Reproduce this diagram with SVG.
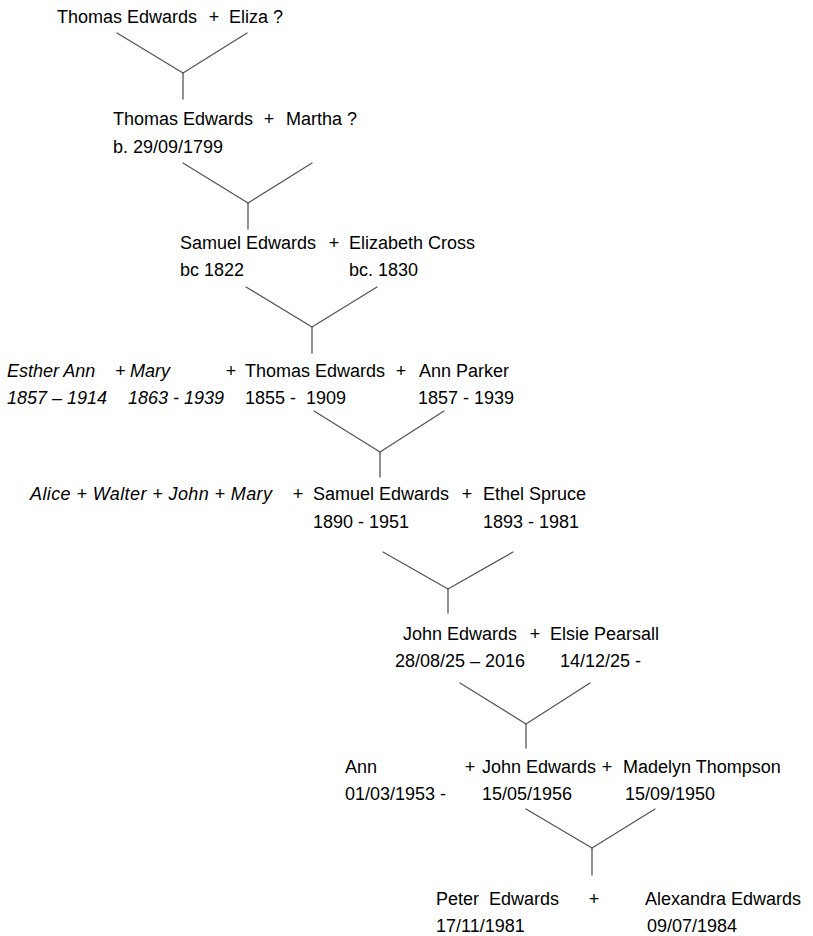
<svg xmlns="http://www.w3.org/2000/svg" width="813" height="936" viewBox="0 0 813 936">
<style>
text{font-family:"Liberation Sans",Arial,sans-serif;font-size:18px;fill:#000}
.i{font-style:italic}
.p{text-anchor:middle}
.c line{stroke:#555;stroke-width:1.3;stroke-linecap:round}
</style>
<rect width="813" height="936" fill="#fff"/>
<g class="c" id="connectors">
<line x1="117" y1="33" x2="183" y2="73"/><line x1="247" y1="33" x2="183" y2="73"/><line x1="183" y1="73" x2="183" y2="99"/>
<line x1="183" y1="163" x2="248" y2="203"/><line x1="312" y1="163" x2="248" y2="203"/><line x1="248" y1="203" x2="248" y2="229"/>
<line x1="246" y1="287" x2="312" y2="327"/><line x1="377" y1="287" x2="312" y2="327"/><line x1="312" y1="327" x2="312" y2="353"/>
<line x1="314" y1="411" x2="380" y2="452"/><line x1="444" y1="411" x2="380" y2="452"/><line x1="380" y1="452" x2="380" y2="477"/>
<line x1="383" y1="552" x2="448" y2="589"/><line x1="513" y1="552" x2="448" y2="589"/><line x1="448" y1="589" x2="448" y2="613"/>
<line x1="460" y1="683" x2="526" y2="724"/><line x1="590" y1="683" x2="526" y2="724"/><line x1="526" y1="724" x2="526" y2="748"/>
<line x1="526" y1="809" x2="592" y2="848"/><line x1="655" y1="809" x2="592" y2="848"/><line x1="592" y1="848" x2="592" y2="875"/>
</g>
<g id="gen1">
<g id="thomas-edwards-1"><text x="57" y="23">Thomas Edwards</text></g>
<text class="p" x="214" y="23">+</text>
<g id="eliza"><text x="229" y="23">Eliza ?</text></g>
</g>
<g id="gen2">
<g id="thomas-edwards-2"><text x="113" y="125">Thomas Edwards</text><text x="113" y="153">b. 29/09/1799</text></g>
<text class="p" x="269" y="125">+</text>
<g id="martha"><text x="286" y="125">Martha ?</text></g>
</g>
<g id="gen3">
<g id="samuel-edwards-1"><text x="180" y="249">Samuel Edwards</text><text x="180" y="276">bc 1822</text></g>
<text class="p" x="334" y="249">+</text>
<g id="elizabeth-cross"><text x="349" y="249">Elizabeth Cross</text><text x="349" y="276">bc. 1830</text></g>
</g>
<g id="gen4">
<g id="esther-ann"><text class="i" x="7" y="377">Esther Ann</text><text class="i" x="7" y="404">1857 – 1914</text></g>
<text class="i" x="115" y="377">+</text>
<g id="mary-1"><text class="i" x="130" y="377">Mary</text><text class="i" x="128" y="404">1863 - 1939</text></g>
<text class="p" x="231" y="377">+</text>
<g id="thomas-edwards-3"><text x="245" y="377">Thomas Edwards</text><text x="245" y="404" xml:space="preserve">1855 -  1909</text></g>
<text class="p" x="401" y="377">+</text>
<g id="ann-parker"><text x="419" y="377">Ann Parker</text><text x="418" y="404">1857 - 1939</text></g>
</g>
<g id="gen5">
<g id="siblings"><text class="i" x="30" y="500" textLength="242">Alice + Walter + John + Mary</text></g>
<text class="p" x="298" y="500">+</text>
<g id="samuel-edwards-2"><text x="313" y="500">Samuel Edwards</text><text x="313" y="528">1890 - 1951</text></g>
<text class="p" x="467" y="500">+</text>
<g id="ethel-spruce"><text x="483" y="500">Ethel Spruce</text><text x="483" y="528">1893 - 1981</text></g>
</g>
<g id="gen6">
<g id="john-edwards-1"><text x="403" y="640">John Edwards</text><text x="395" y="667">28/08/25 – 2016</text></g>
<text class="p" x="535" y="640">+</text>
<g id="elsie-pearsall"><text x="550" y="640">Elsie Pearsall</text><text x="560" y="667">14/12/25 -</text></g>
</g>
<g id="gen7">
<g id="ann"><text x="345" y="773">Ann</text><text x="345" y="800">01/03/1953 -</text></g>
<text class="p" x="470" y="773">+</text>
<g id="john-edwards-2"><text x="482" y="773">John Edwards</text><text x="482" y="800">15/05/1956</text></g>
<text class="p" x="607" y="773">+</text>
<g id="madelyn-thompson"><text x="623" y="773">Madelyn Thompson</text><text x="625" y="800">15/09/1950</text></g>
</g>
<g id="gen8">
<g id="peter-edwards"><text x="436" y="905" xml:space="preserve">Peter  Edwards</text><text x="436" y="932">17/11/1981</text></g>
<text class="p" x="594" y="905">+</text>
<g id="alexandra-edwards"><text x="645" y="905">Alexandra Edwards</text><text x="647" y="932">09/07/1984</text></g>
</g>
</svg>
